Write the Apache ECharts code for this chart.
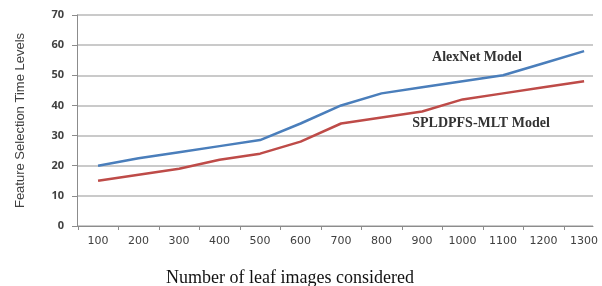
<!DOCTYPE html>
<html>
<head>
<meta charset="utf-8">
<script src="https://cdn.jsdelivr.net/npm/echarts@6/dist/echarts.min.js"></script>
<style>
  html, body { margin: 0; padding: 0; background: #fff; }
  #main { width: 602px; height: 286px; }
</style>
</head>
<body>
<div id="main"></div>
<script>
// leaf images considered (x) and time levels of each model
var images = [100, 200, 300, 400, 500, 600, 700, 800, 900, 1000, 1100, 1200, 1300];
var alexnet = [20, 22.5, 24.5, 26.5, 28.5, 34, 40, 44, 46, 48, 50, 54, 58];
var spldpfs = [15, 17, 19, 22, 24, 28, 34, 36, 38, 42, 44, 46, 48];
var tickMarks = [50, 150, 250, 350, 450, 550, 650, 750, 850, 950, 1050, 1150, 1250];

function pairs(ys) {
  return images.map(function (x, i) { return [x, ys[i]]; });
}

var chart = echarts.init(document.getElementById('main'));
chart.setOption({
  animation: false,
  grid: { left: 77, right: 9, top: 15, bottom: 60 },
  xAxis: {
    type: 'value',
    min: 48,
    max: 1322,
    axisLine: { lineStyle: { color: '#8c8c8c', width: 1 } },
    axisTick: { show: true, length: 4, customValues: tickMarks, lineStyle: { color: '#8c8c8c' } },
    axisLabel: {
      customValues: images,
      formatter: function (v) { return String(v); },
      margin: 10,
      color: '#404040',
      fontFamily: 'DejaVu Sans',
      fontSize: 11
    },
    splitLine: { show: false }
  },
  yAxis: {
    type: 'value',
    min: 0,
    max: 70,
    interval: 10,
    name: 'Feature Selection Time Levels',
    nameLocation: 'middle',
    nameRotate: 90,
    nameGap: 50,
    nameTextStyle: { color: '#404040', fontFamily: 'Liberation Sans', fontSize: 13 },
    axisLine: { show: true, lineStyle: { color: '#8c8c8c', width: 1 } },
    axisTick: { show: true, length: 5, lineStyle: { color: '#8c8c8c' } },
    axisLabel: { margin: 13, color: '#404040', fontFamily: 'Open Sans', fontWeight: 'bold', fontSize: 11 },
    splitLine: { lineStyle: { color: '#b8b8b8', width: 1.5 } }
  },
  graphic: [
    {
      type: 'text', x: 290, y: 278,
      style: { text: 'Number of leaf images considered', font: '18px "Liberation Serif"', fill: '#111', align: 'center', verticalAlign: 'middle' }
    },
    {
      type: 'text', x: 477, y: 57,
      style: { text: 'AlexNet Model', font: 'bold 14px "Liberation Serif"', fill: '#333', align: 'center', verticalAlign: 'middle' }
    },
    {
      type: 'text', x: 481, y: 123,
      style: { text: 'SPLDPFS-MLT Model', font: 'bold 14px "Liberation Serif"', fill: '#333', align: 'center', verticalAlign: 'middle' }
    }
  ],
  series: [
    {
      name: 'AlexNet Model',
      type: 'line',
      data: pairs(alexnet),
      symbol: 'none',
      lineStyle: { color: '#4a7ebb', width: 2.5 }
    },
    {
      name: 'SPLDPFS-MLT Model',
      type: 'line',
      data: pairs(spldpfs),
      symbol: 'none',
      lineStyle: { color: '#be4b48', width: 2.5 }
    }
  ]
});
</script>
</body>
</html>
